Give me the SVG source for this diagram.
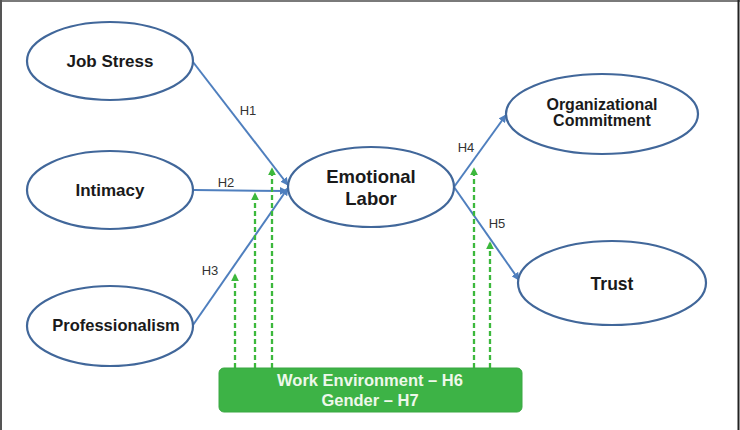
<svg xmlns="http://www.w3.org/2000/svg" width="740" height="430" viewBox="0 0 740 430">
<defs>
<style>
.node{fill:#ffffff;stroke:#41679a;stroke-width:2.2}
.lbl{font-family:"Liberation Sans",Arial,sans-serif;font-weight:bold;fill:#1a1a1a;text-anchor:middle}
.hyp{font-family:"Liberation Sans",Arial,sans-serif;font-size:13px;fill:#333333;text-anchor:middle}
.edge{stroke:#4f7fbe;stroke-width:2;fill:none;marker-end:url(#ab)}
.mod{stroke:#3cb83c;stroke-width:2.3;stroke-dasharray:5 3;fill:none;marker-end:url(#ag)}
.box{fill:#3db346;stroke:#3aa843;stroke-width:1}
.boxt{font-family:"Liberation Sans",Arial,sans-serif;font-weight:bold;font-size:16.5px;fill:#eef8ea;text-anchor:middle}
</style>
<marker id="ab" viewBox="0 0 10 10" refX="9" refY="5" markerWidth="4" markerHeight="4" orient="auto" markerUnits="strokeWidth">
<path d="M0,0 L10,5 L0,10 z" fill="#4f7fbe"/>
</marker>
<marker id="ag" viewBox="0 0 10 10" refX="9" refY="5" markerWidth="3.5" markerHeight="3.5" orient="auto" markerUnits="strokeWidth">
<path d="M0,0 L10,5 L0,10 z" fill="#3cb83c"/>
</marker>
</defs>
<rect x="0" y="0" width="740" height="430" fill="#ffffff"/>
<line x1="0" y1="1" x2="740" y2="1" stroke="#7a7a7a" stroke-width="2"/>
<line x1="1" y1="0" x2="1" y2="430" stroke="#555555" stroke-width="2"/>
<line x1="738.5" y1="0" x2="738.5" y2="430" stroke="#222222" stroke-width="2"/>

<g id="connectors">
<line class="edge" x1="193" y1="62" x2="288" y2="185"/>
<line class="edge" x1="194" y1="190" x2="287" y2="191"/>
<line class="edge" x1="193" y1="325" x2="288" y2="188"/>
<line class="edge" x1="454" y1="187" x2="506" y2="115"/>
<line class="edge" x1="454" y1="187" x2="519" y2="280"/>
<line class="mod" x1="235" y1="368" x2="235" y2="274"/>
<line class="mod" x1="255" y1="368" x2="255" y2="193"/>
<line class="mod" x1="272" y1="368" x2="272" y2="168"/>
<line class="mod" x1="474" y1="368" x2="474" y2="168"/>
<line class="mod" x1="490" y1="368" x2="490" y2="242"/>
<text class="hyp" x="248" y="115">H1</text>
<text class="hyp" x="226" y="187">H2</text>
<text class="hyp" x="210" y="275">H3</text>
<text class="hyp" x="466" y="152">H4</text>
<text class="hyp" x="497" y="228">H5</text>
</g>

<g id="job-stress">
<ellipse class="node" cx="110" cy="61" rx="83" ry="39"/>
<text class="lbl" x="110" y="67" font-size="17">Job Stress</text>
</g>
<g id="intimacy">
<ellipse class="node" cx="110" cy="190" rx="83" ry="39"/>
<text class="lbl" x="110" y="196" font-size="17">Intimacy</text>
</g>
<g id="professionalism">
<ellipse class="node" cx="110" cy="326" rx="83" ry="40"/>
<text class="lbl" x="116" y="331" font-size="16.5">Professionalism</text>
</g>
<g id="emotional-labor">
<ellipse class="node" cx="371" cy="187" rx="83" ry="40"/>
<text class="lbl" x="371" y="183" font-size="18.5">Emotional</text>
<text class="lbl" x="371" y="205" font-size="18.5">Labor</text>
</g>
<g id="organizational-commitment">
<ellipse class="node" cx="602" cy="114" rx="96" ry="40"/>
<text class="lbl" x="602" y="110" font-size="16">Organizational</text>
<text class="lbl" x="602" y="126" font-size="16">Commitment</text>
</g>
<g id="trust">
<ellipse class="node" cx="612" cy="283" rx="94" ry="42"/>
<text class="lbl" x="612" y="290" font-size="17.5">Trust</text>
</g>
<g id="moderators">
<rect class="box" x="219" y="368" width="303" height="44" rx="5" ry="5"/>
<text class="boxt" x="370" y="386">Work Environment – H6</text>
<text class="boxt" x="370" y="406">Gender – H7</text>
</g>
</svg>
